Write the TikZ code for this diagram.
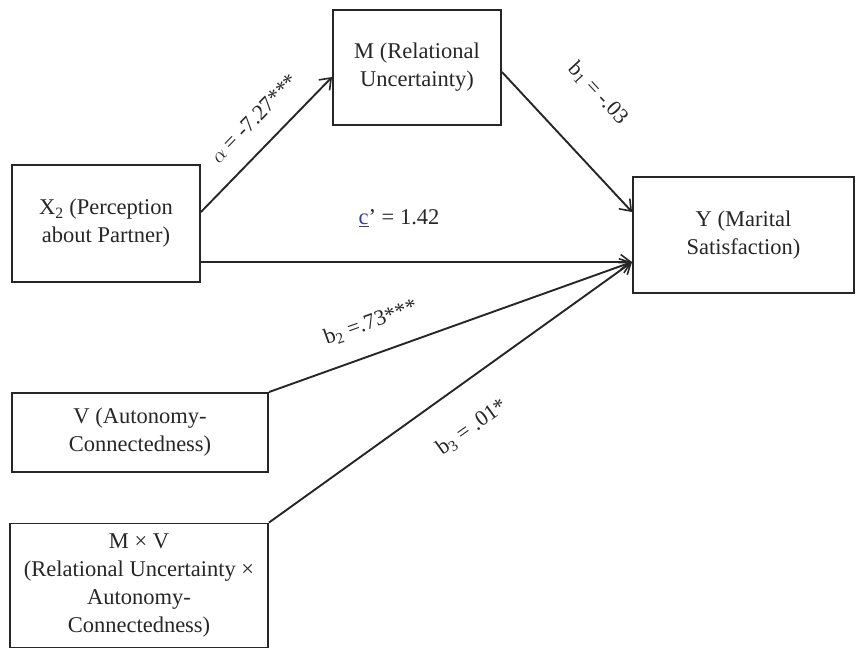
\documentclass[tikz,border=0pt]{standalone}
\usepackage{fontspec}
\setmainfont{Liberation Serif}
\usetikzlibrary{arrows.meta}
\definecolor{ink}{HTML}{262626}
\definecolor{linkblue}{HTML}{3A3AA0}
\tikzset{
  varbox/.style={draw=ink, line width=1.9pt, rectangle, align=center, inner sep=0pt,
    text=ink, font=\fontsize{22.5pt}{28pt}\selectfont},
  conn/.style={draw=ink, line width=1.9pt, -{Straight Barb[length=10pt,width=15pt,line width=1.6pt]}},
  lbl/.style={sloped, anchor=center, inner sep=0pt, text=ink, font=\fontsize{22pt}{26pt}\selectfont}
}
\begin{document}
\begin{tikzpicture}[x=1pt, y=-1pt]
\useasboundingbox (0,0) rectangle (856,649);
\node[varbox, minimum width=188pt, minimum height=117pt] (X) at (106,223.5) {X\textsubscript{2} (Perception\\about Partner)};
\node[varbox, minimum width=168pt, minimum height=115pt] (M) at (417,67.5) {M (Relational\\Uncertainty)};
\node[varbox, minimum width=221pt, minimum height=116pt] (Y) at (743.5,235) {Y (Marital\\Satisfaction)};
\node[varbox, minimum width=256pt, minimum height=79pt] (V) at (140,432.5) {V (Autonomy-\\Connectedness)};
\node[varbox, minimum width=258pt, minimum height=124pt] (MV) at (139,585.5) {M × V\\(Relational Uncertainty ×\\Autonomy-\\Connectedness)};

\draw[conn] ([yshift=11.5pt]X.east) -- ([yshift=-9.5pt]M.west)
  node[lbl, pos=0.553, yshift=27pt] (la) {$\alpha$ = -7.27***};
\draw[conn] ([yshift=-4.5pt]M.east) -- ([yshift=23pt]Y.west)
  node[lbl, pos=0.425, yshift=56pt] (lb1) {b\textsubscript{1} = -.03};
\draw[conn] ([yshift=-38.5pt]X.east) -- ([yshift=-27pt]Y.west);
\node[text=ink, inner sep=0pt, font=\fontsize{22.5pt}{26pt}\selectfont] (lc) at (399,218)
  {\textcolor{linkblue}{\underline{c}}’ = 1.42};
\draw[conn] (V.north east) -- ([yshift=-27pt]Y.west)
  node[lbl, pos=0.309, yshift=31pt] (lb2) {b\textsubscript{2} =.73***};
\draw[conn] (MV.north east) -- ([yshift=-27pt]Y.west)
  node[lbl, pos=0.493, yshift=-41pt] (lb3) {b\textsubscript{3} = .01*};
\end{tikzpicture}
\end{document}
